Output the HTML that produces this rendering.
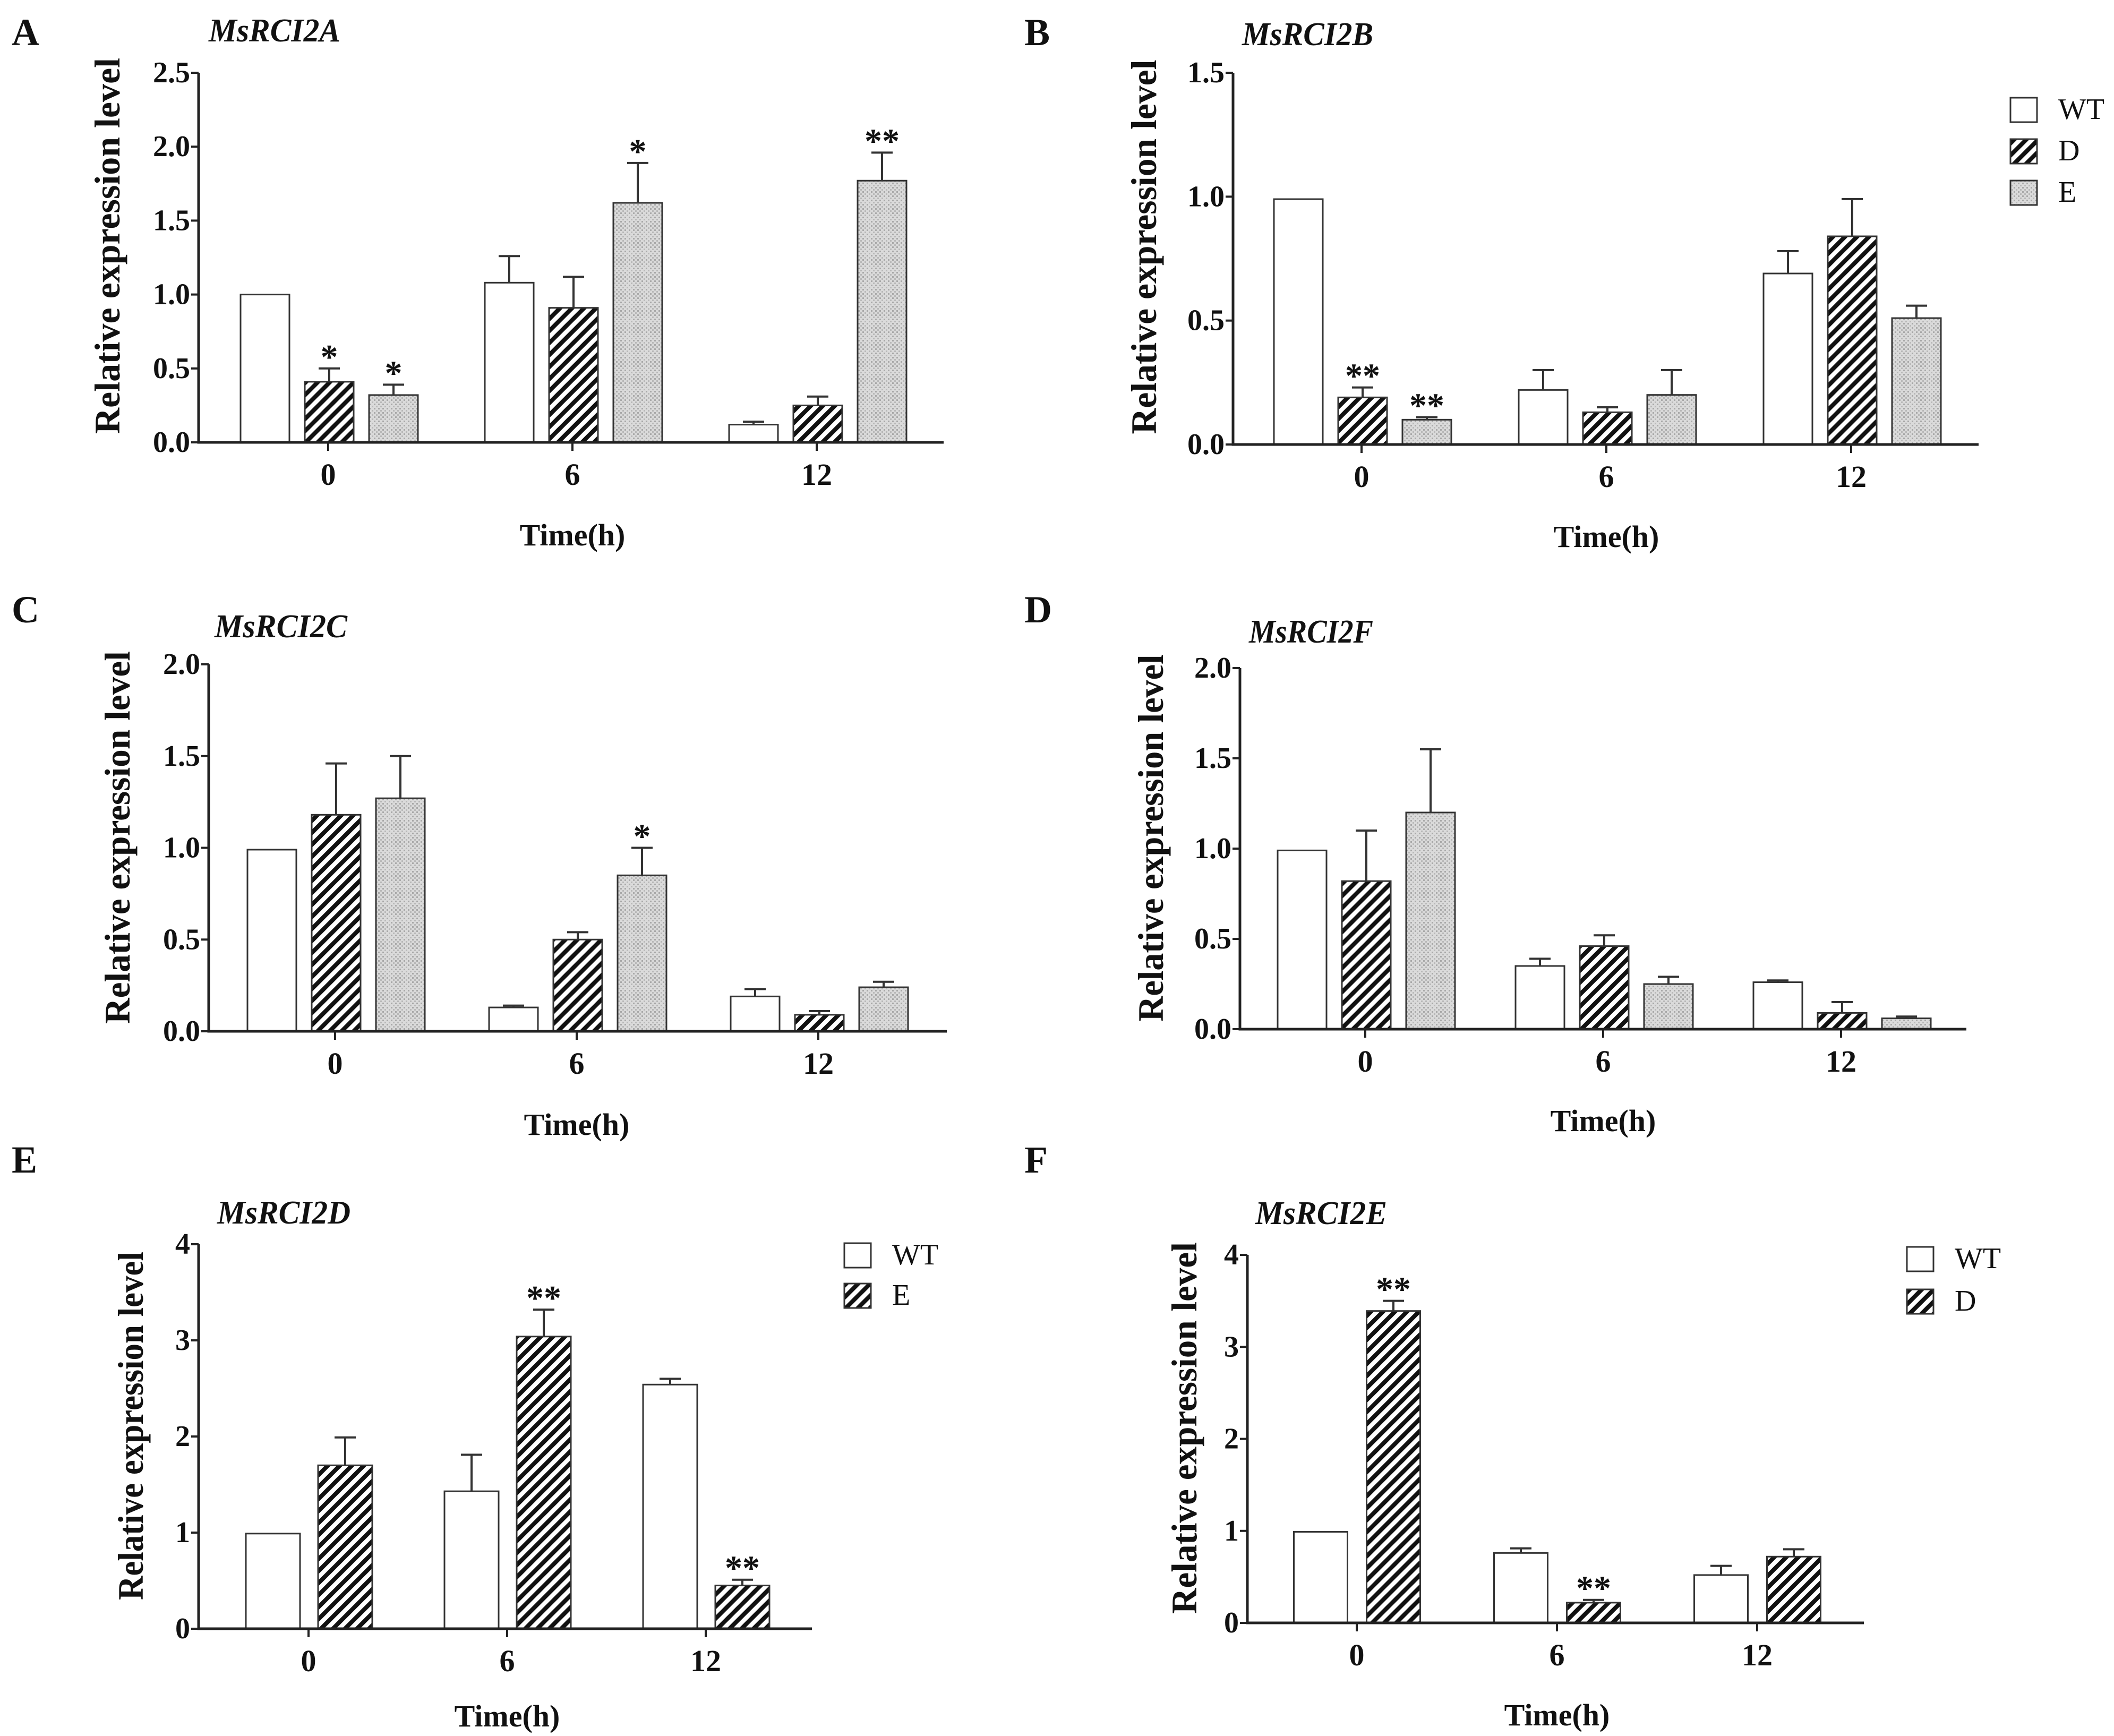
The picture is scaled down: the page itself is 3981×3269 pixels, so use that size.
<!DOCTYPE html>
<html><head><meta charset="utf-8">
<style>
html,body{margin:0;padding:0;background:#fff;}
svg{display:block;}
text{font-family:"Liberation Serif",serif;fill:#111;}
</style></head>
<body>
<svg id="fig" xmlns="http://www.w3.org/2000/svg" width="3981" height="3269" viewBox="0 0 3981 3269">
<defs>
<pattern id="hatch" patternUnits="userSpaceOnUse" width="16" height="16" patternTransform="rotate(45)">
<rect x="0" y="0" width="16" height="16" fill="#fff"/>
<rect x="0" y="0" width="8" height="16" fill="#111"/>
</pattern>
<pattern id="dots" patternUnits="userSpaceOnUse" width="8" height="8">
<rect x="0" y="0" width="8" height="8" fill="#dadada"/>
<rect x="0" y="0" width="3" height="3" fill="#a8a8a8"/>
<rect x="4" y="4" width="3" height="3" fill="#b8b8b8"/>
</pattern>
</defs>
</svg>
<script>
// ---- data ----
const categories = ["0", "6", "12"];
// Panel A MsRCI2A
const aWT = [1.0, 1.08, 0.12], aWTerr = [0, 0.18, 0.02];
const aD = [0.41, 0.91, 0.25], aDerr = [0.09, 0.21, 0.06];
const aE = [0.32, 1.62, 1.77], aEerr = [0.07, 0.27, 0.19];
const aStars = [["", "*", "*"], ["", "", "*"], ["", "", "**"]];
// Panel B MsRCI2B
const bWT = [0.99, 0.22, 0.69], bWTerr = [0, 0.08, 0.09];
const bD = [0.19, 0.13, 0.84], bDerr = [0.04, 0.02, 0.15];
const bE = [0.10, 0.20, 0.51], bEerr = [0.01, 0.10, 0.05];
const bStars = [["", "**", "**"], ["", "", ""], ["", "", ""]];
// Panel C MsRCI2C
const cWT = [0.99, 0.13, 0.19], cWTerr = [0, 0.01, 0.04];
const cD = [1.18, 0.50, 0.09], cDerr = [0.28, 0.04, 0.02];
const cE = [1.27, 0.85, 0.24], cEerr = [0.23, 0.15, 0.03];
const cStars = [["", "", ""], ["", "", "*"], ["", "", ""]];
// Panel D MsRCI2F
const dWT = [0.99, 0.35, 0.26], dWTerr = [0, 0.04, 0.01];
const dD = [0.82, 0.46, 0.09], dDerr = [0.28, 0.06, 0.06];
const dE = [1.20, 0.25, 0.06], dEerr = [0.35, 0.04, 0.01];
const dStars = [["", "", ""], ["", "", ""], ["", "", ""]];
// Panel E MsRCI2D
const eWT = [0.99, 1.43, 2.54], eWTerr = [0, 0.38, 0.06];
const eE = [1.70, 3.04, 0.45], eEerr = [0.29, 0.28, 0.06];
const eStars = [["", ""], ["", "**"], ["", "**"]];
// Panel F MsRCI2E
const fWT = [0.99, 0.76, 0.52], fWTerr = [0, 0.05, 0.10];
const fD = [3.39, 0.22, 0.72], fDerr = [0.11, 0.03, 0.08];
const fStars = [["", "**"], ["", "**"], ["", ""]];
const ticks15 = ["0.0", "0.5", "1.0", "1.5"];
const ticks25 = ["0.0", "0.5", "1.0", "1.5", "2.0", "2.5"];
const ticks20 = ["0.0", "0.5", "1.0", "1.5", "2.0"];
const ticks4 = ["0", "1", "2", "3", "4"];

// ---- drawing ----
const NS = "http://www.w3.org/2000/svg";
const svg = document.getElementById("fig");
function mk(tag, attrs, parent, txt) {
  const e = document.createElementNS(NS, tag);
  for (const k in attrs) e.setAttribute(k, attrs[k]);
  if (txt !== undefined) e.textContent = txt;
  (parent || svg).appendChild(e);
  return e;
}
const fills = {WT: "#fff", D: "url(#hatch)", E: "url(#dots)", Ehatch: "url(#hatch)"};

function panel(p) {
  const g = mk("g", {});
  
  
  const ymax = parseFloat(p.ticks[p.ticks.length - 1]);
  const Y = v => p.y0 - (v / ymax) * (p.y0 - p.yTop);
  const X = i => p.gx0 + i * p.step;
  const L = mk("text", {x: p.letterX, y: p.letterY, "font-size": 72, "font-weight": "bold"}, g, p.id);
  
  
  const T = mk("text", {x: p.titleX, y: p.titleY, "font-size": 62, "font-weight": "bold", "font-style": "italic", textLength: p.titleW, lengthAdjust: "spacingAndGlyphs"}, g, p.title);
  
  
  const yl = mk("text", {x: 0, y: 0, "font-size": 68, "font-weight": "bold", "text-anchor": "middle",
    transform: `translate(${p.ylabX},${p.ylabY}) rotate(-90)`, textLength: p.ylabLen, lengthAdjust: "spacingAndGlyphs"}, g, "Relative expression level");
  
  
  p.series.forEach((s, j) => {
    s.vals.forEach((v, i) => {
      const cx = X(i) + p.offs[j];
      const top = Y(v);
      const r = mk("rect", {x: cx - p.bw / 2, y: top, width: p.bw, height: p.y0 - top, fill: fills[s.fill], stroke: "#333", "stroke-width": 3}, g);
      
      
      const err = s.errs[i];
      if (err > 0) {
        const et = Y(v + err);
        const el = mk("path", {d: `M${cx},${top} V${et} M${cx - 20},${et} H${cx + 20}`, stroke: "#333", "stroke-width": 4, fill: "none"}, g);
        
        
      }
      const st = p.stars[i][j];
      if (st) {
        const sy = Y(v + err) - 30;
        const sText = mk("text", {x: cx, y: sy + 30, "font-size": 66, "font-weight": "bold", "text-anchor": "middle"}, g, st);
        
        
      }
    });
  });
  const ax = mk("path", {d: `M${p.axX},${p.yTop} V${p.y0} H${p.xEnd}`, stroke: "#222", "stroke-width": 5, fill: "none"}, g);
  
  
  p.ticks.forEach(t => {
    const ty = Y(parseFloat(t));
    mk("line", {x1: p.axX - 14, x2: p.axX, y1: ty, y2: ty, stroke: "#222", "stroke-width": 4}, g);
    const tl = mk("text", {x: p.axX - 16, y: ty + 18, "font-size": 56, "font-weight": "bold", "text-anchor": "end"}, g, t);
    
    
  });
  categories.forEach((c, i) => {
    mk("line", {x1: X(i), x2: X(i), y1: p.y0, y2: p.y0 + 16, stroke: "#222", "stroke-width": 4}, g);
    const xl = mk("text", {x: X(i), y: p.y0 + 80, "font-size": 58, "font-weight": "bold", "text-anchor": "middle"}, g, c);
    
    
  });
  const xt = mk("text", {x: X(1), y: p.timeY, "font-size": 58, "font-weight": "bold", "text-anchor": "middle"}, g, "Time(h)");
  
  
  if (p.legend) {
    p.series.forEach((s, j) => {
      const ly = p.legY + j * p.legStep;
      const lb = mk("rect", {x: p.legX, y: ly, width: 50, height: 46, fill: fills[s.fill], stroke: "#333", "stroke-width": 3}, g);
      
      
      const lt = mk("text", {x: p.legX + 90, y: ly + 40, "font-size": 56}, g, s.name);
      
      
    });
  }
}
const off3 = [-119, 2, 123];
panel({id: "A", title: "MsRCI2A", letterX: 22, letterY: 85, titleX: 393, titleY: 78, titleW: 248,
  ylabX: 225, ylabY: 463, ylabLen: 708, axX: 374, y0: 833, yTop: 137, xEnd: 1777, gx0: 618, step: 460,
  offs: off3, bw: 92, ticks: ticks25, timeY: 1027, stars: aStars,
  series: [{name: "WT", vals: aWT, errs: aWTerr, fill: "WT"}, {name: "D", vals: aD, errs: aDerr, fill: "D"}, {name: "E", vals: aE, errs: aEerr, fill: "E"}]});
panel({id: "B", title: "MsRCI2B", letterX: 1929, letterY: 85, titleX: 2339, titleY: 85, titleW: 247,
  ylabX: 2177, ylabY: 465, ylabLen: 705, axX: 2322, y0: 837, yTop: 137, xEnd: 3726, gx0: 2564, step: 461,
  offs: off3, bw: 92, ticks: ticks15, timeY: 1030, stars: bStars, legend: true, legX: 3786, legY: 184, legStep: 78,
  series: [{name: "WT", vals: bWT, errs: bWTerr, fill: "WT"}, {name: "D", vals: bD, errs: bDerr, fill: "D"}, {name: "E", vals: bE, errs: bEerr, fill: "E"}]});
panel({id: "C", title: "MsRCI2C", letterX: 22, letterY: 1172, titleX: 404, titleY: 1200, titleW: 250,
  ylabX: 244, ylabY: 1577, ylabLen: 702, axX: 393, y0: 1942, yTop: 1251, xEnd: 1783, gx0: 631, step: 455,
  offs: off3, bw: 92, ticks: ticks20, timeY: 2137, stars: cStars,
  series: [{name: "WT", vals: cWT, errs: cWTerr, fill: "WT"}, {name: "D", vals: cD, errs: cDerr, fill: "D"}, {name: "E", vals: cE, errs: cEerr, fill: "E"}]});
panel({id: "D", title: "MsRCI2F", letterX: 1929, letterY: 1172, titleX: 2352, titleY: 1210, titleW: 234,
  ylabX: 2190, ylabY: 1578, ylabLen: 691, axX: 2335, y0: 1938, yTop: 1258, xEnd: 3703, gx0: 2571, step: 448,
  offs: off3, bw: 92, ticks: ticks20, timeY: 2130, stars: dStars,
  series: [{name: "WT", vals: dWT, errs: dWTerr, fill: "WT"}, {name: "D", vals: dD, errs: dDerr, fill: "D"}, {name: "E", vals: dE, errs: dEerr, fill: "E"}]});
panel({id: "E", title: "MsRCI2D", letterX: 22, letterY: 2208, titleX: 409, titleY: 2304, titleW: 251,
  ylabX: 269, ylabY: 2685, ylabLen: 656, axX: 374, y0: 3067, yTop: 2343, xEnd: 1529, gx0: 581, step: 374,
  offs: [-67, 69], bw: 102, ticks: ticks4, timeY: 3251, stars: eStars, legend: true, legX: 1590, legY: 2341, legStep: 76,
  series: [{name: "WT", vals: eWT, errs: eWTerr, fill: "WT"}, {name: "E", vals: eE, errs: eEerr, fill: "Ehatch"}]});
panel({id: "F", title: "MsRCI2E", letterX: 1929, letterY: 2208, titleX: 2364, titleY: 2305, titleW: 248,
  ylabX: 2253, ylabY: 2689, ylabLen: 700, axX: 2349, y0: 3056, yTop: 2363, xEnd: 3510, gx0: 2555, step: 377,
  offs: [-68, 69], bw: 101, ticks: ticks4, timeY: 3249, stars: fStars, legend: true, legX: 3591, legY: 2348, legStep: 80,
  series: [{name: "WT", vals: fWT, errs: fWTerr, fill: "WT"}, {name: "D", vals: fD, errs: fDerr, fill: "D"}]});
</script>
</body></html>
